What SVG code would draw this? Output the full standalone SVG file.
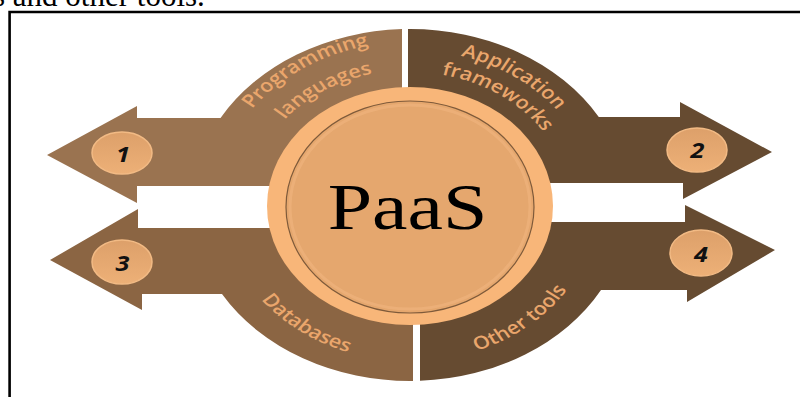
<svg xmlns="http://www.w3.org/2000/svg" xmlns:xlink="http://www.w3.org/1999/xlink" width="800" height="397" viewBox="0 0 800 397">
<style>
.lbl{font-family:"Open Sans","DejaVu Sans",sans-serif;font-weight:600;font-size:18px;fill:#EAA66C}
.num{font-family:"Open Sans","DejaVu Sans",sans-serif;font-weight:700;font-style:italic;font-size:21px;fill:#111}
.oval{fill:url(#ovalG);stroke:#F2BA84;stroke-width:1.5}
</style>
<defs>
<linearGradient id="ovalG" x1="0" y1="0" x2="0" y2="1">
<stop offset="0" stop-color="#DDA06A"/>
<stop offset="1" stop-color="#EDB077"/>
</linearGradient>
<path id="pProg" d="M-155.9,-47.7 A163,163 0 0 1 19.9,-161.8"/>
<path id="pLang" d="M-128.4,-41.7 A135,135 0 0 1 18.8,-133.7"/>
<path id="pAppl" d="M-16.2,-154.1 A155,155 0 0 1 149.0,-42.7"/>
<path id="pFram" d="M-13.9,-132.3 A133,133 0 0 1 127.9,-36.7"/>
<path id="pData" d="M-151.4,37.7 A156,156 0 0 0 10.9,155.6"/>
<path id="pOther" d="M-2.7,156.0 A156,156 0 0 0 153.1,29.8"/>
</defs>
<rect width="800" height="397" fill="#fff"/>
<text x="-7" y="6" font-family="Liberation Serif, serif" font-size="31" fill="#000">s and other tools.</text>
<path d="M9.6,397 V12 H800" fill="none" stroke="#000" stroke-width="2.6"/>

<g id="connectors">
<g id="arrow-1"><path d="M47,155 L137,106 L137,118 L220.5,118 A218,176 0 0 1 402,29.1 L402,186 L137,186 L137,203 Z" fill="#9A7350"/></g>
<g id="arrow-2"><path d="M772,152 L680,102 L680,117 L598.8,117 A218,176 0 0 0 408,29 L408,183 L683,183 L683,199 Z" fill="#664B31"/></g>
<g id="arrow-3"><path d="M50,260 L138,209 L138,228 L413,228 L413,381 A218,176 0 0 1 222,294 L142,294 L142,310 Z" fill="#8B6543"/></g>
<g id="arrow-4"><path d="M775,250 L685,205 L685,222 L420,222 L420,380.8 A218,176 0 0 0 601,290 L687,290 L687,302 Z" fill="#664B31"/></g>
</g>

<g id="center">
<ellipse cx="410" cy="206" rx="143" ry="119" fill="#F8B679"/>
<ellipse cx="410" cy="207" rx="124" ry="106" fill="#E5A76E" stroke="#7E5A3A" stroke-width="1.2"/>
<ellipse cx="410" cy="207" rx="120" ry="102" fill="none" stroke="#EDB27B" stroke-width="3" opacity="0.8"/>
<text transform="translate(407.5,229) scale(1.21,1)" x="0" y="0" text-anchor="middle" font-family="Liberation Serif, serif" font-size="66" fill="#000">PaaS</text>
</g>

<g id="labels" transform="translate(410,205) scale(1.2,1)">
<text class="lbl"><textPath xlink:href="#pProg" href="#pProg" startOffset="50%" text-anchor="middle">Programming</textPath></text>
<text class="lbl"><textPath xlink:href="#pLang" href="#pLang" startOffset="50%" text-anchor="middle">languages</textPath></text>
<text class="lbl"><textPath xlink:href="#pAppl" href="#pAppl" startOffset="50%" text-anchor="middle">Application</textPath></text>
<text class="lbl"><textPath xlink:href="#pFram" href="#pFram" startOffset="50%" text-anchor="middle">frameworks</textPath></text>
<text class="lbl"><textPath xlink:href="#pData" href="#pData" startOffset="50%" text-anchor="middle">Databases</textPath></text>
<text class="lbl"><textPath xlink:href="#pOther" href="#pOther" startOffset="50%" text-anchor="middle">Other tools</textPath></text>
</g>

<g id="node-1"><ellipse class="oval" cx="122" cy="153" rx="30" ry="21"/><text class="num" transform="translate(123,162) scale(1.2,1)" text-anchor="middle">1</text></g>
<g id="node-2"><ellipse class="oval" cx="697" cy="150" rx="30" ry="22"/><text class="num" transform="translate(697.5,157.5) scale(1.2,1)" text-anchor="middle">2</text></g>
<g id="node-3"><ellipse class="oval" cx="122" cy="262" rx="30" ry="22"/><text class="num" transform="translate(122.5,270.5) scale(1.2,1)" text-anchor="middle">3</text></g>
<g id="node-4"><ellipse class="oval" cx="701" cy="253" rx="31" ry="23"/><text class="num" transform="translate(701,261.5) scale(1.2,1)" text-anchor="middle">4</text></g>
</svg>
